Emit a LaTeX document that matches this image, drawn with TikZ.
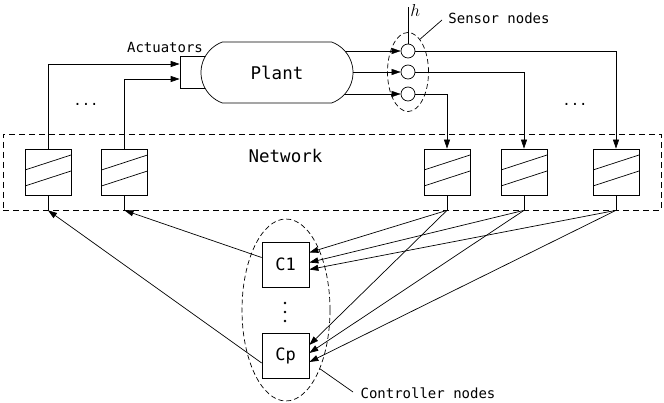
\documentclass[tikz,border=0pt]{standalone}
\usepackage{fontspec}
\newfontfamily\mono{DejaVu Sans Mono}
\usetikzlibrary{shapes.geometric,shapes.misc,arrows.meta,backgrounds,calc}
\begin{document}
\begin{tikzpicture}[x=1pt,y=-1pt,
  line width=0.7pt,
  arr/.style={-{Triangle[length=9pt,width=6pt]}},
  chan/.style={draw, minimum size=46pt, inner sep=0pt, path picture={
     \draw ([yshift=-21pt]path picture bounding box.north west) -- ([yshift=-6pt]path picture bounding box.north east);
     \draw ([yshift=-37pt]path picture bounding box.north west) -- ([yshift=-22pt]path picture bounding box.north east);}},
  ctrl/.style={draw, minimum width=47pt, minimum height=45pt, inner sep=0pt, font=\mono\fontsize{17}{20}\selectfont},
  sens/.style={draw, circle, minimum size=14pt, inner sep=0pt, fill=white},
  dashbox/.style={draw, dash pattern=on 6pt off 4pt},
  dashell/.style={draw, ellipse, inner sep=0pt, dash pattern=on 5pt off 3pt},
  lbl/.style={font=\mono\fontsize{14}{16}\selectfont, inner sep=0pt},
  big/.style={font=\mono\fontsize{17.5}{20}\selectfont, inner sep=0pt},
  vdot/.style={circle, fill, inner sep=0pt, minimum size=2.6pt}]

\useasboundingbox (0,0) rectangle (664,403);

% network
\node[dashbox, minimum width=658pt, minimum height=76pt, inner sep=0pt] (net) at (332,172) {};
\node[big] (netl) at (285.5,156) {Network};

\node[chan] (n1) at (48,172) {};
\node[chan] (n2) at (124.5,172) {};
\node[chan] (n3) at (447,172) {};
\node[chan] (n4) at (524,172) {};
\node[chan] (n5) at (616,172) {};

% actuators and plant
\node[draw, minimum width=30pt, minimum height=32pt, inner sep=0pt] (act) at (195,72) {};
\node[draw, fill=white, rounded rectangle, rounded rectangle arc length=140, minimum width=152pt, minimum height=61pt, big] (plant) at (277,72.5) {Plant};
\node[lbl] (actl) at (165,47) {Actuators};

% sensors
\node[dashell, minimum width=41pt, minimum height=79pt] (sell) at (408,72) {};
\node[sens] (s1) at (408,51) {};
\node[sens] (s2) at (408,72) {};
\node[sens] (s3) at (408,94) {};
\coordinate (htop) at (408,7);
\draw (s1.north) -- (htop);
\node[anchor=west, inner sep=1pt, font=\fontsize{17}{19}\selectfont] (hl) at (409,11) {$h$};
\node[lbl] (sensl) at (499,18) {Sensor nodes};
\coordinate (slp) at (442,20);
\draw (sell.70) -- (slp);

\begin{scope}[on background layer]
\foreach \s in {s1,s2,s3} \draw[arr] (plant.center |- \s) -- (\s.west);
\end{scope}

\draw[arr] (s1.east) -| (n5.north);
\draw[arr] (s2.east) -| (n4.north);
\draw[arr] (s3.east) -| (n3.north);

\draw[arr] (n1.north) |- ([yshift=8pt]act.west);
\draw[arr] (n2.north) |- ([yshift=-7pt]act.west);

\node[lbl] (dl) at (86,104) {...};
\node[lbl] (dr) at (575,104) {...};

\foreach \i in {1,...,5} {
  \coordinate (b\i) at (n\i.south |- net.south);
  \draw (n\i.south) -- (b\i);
}

% controllers
\node[dashell, minimum width=88pt, minimum height=182pt] (cell) at (286,310) {};
\node[ctrl] (c1) at (285.5,264.5) {C1};
\node[ctrl] (cp) at (285.5,356) {Cp};
\node[vdot] (vd1) at (285,303) {};
\node[vdot] (vd2) at (285,312) {};
\node[vdot] (vd3) at (285,321) {};

\draw[arr] ([yshift=7pt]c1.west) -- (b2);
\draw[arr] ([yshift=-7pt]cp.west) -- (b1);
\draw[arr] (b3) -- ([yshift=12pt]c1.east);
\draw[arr] (b4) -- ([yshift=2pt]c1.east);
\draw[arr] (b5) -- ([yshift=-5pt]c1.east);
\draw[arr] (b3) -- ([yshift=11pt]cp.east);
\draw[arr] (b4) -- ([yshift=3pt]cp.east);
\draw[arr] (b5) -- ([yshift=-6pt]cp.east);

\node[lbl] (cl) at (428,393) {Controller nodes};
\coordinate (clp) at (353,392);
\draw (cell.-60) -- (clp);
\end{tikzpicture}
\end{document}
